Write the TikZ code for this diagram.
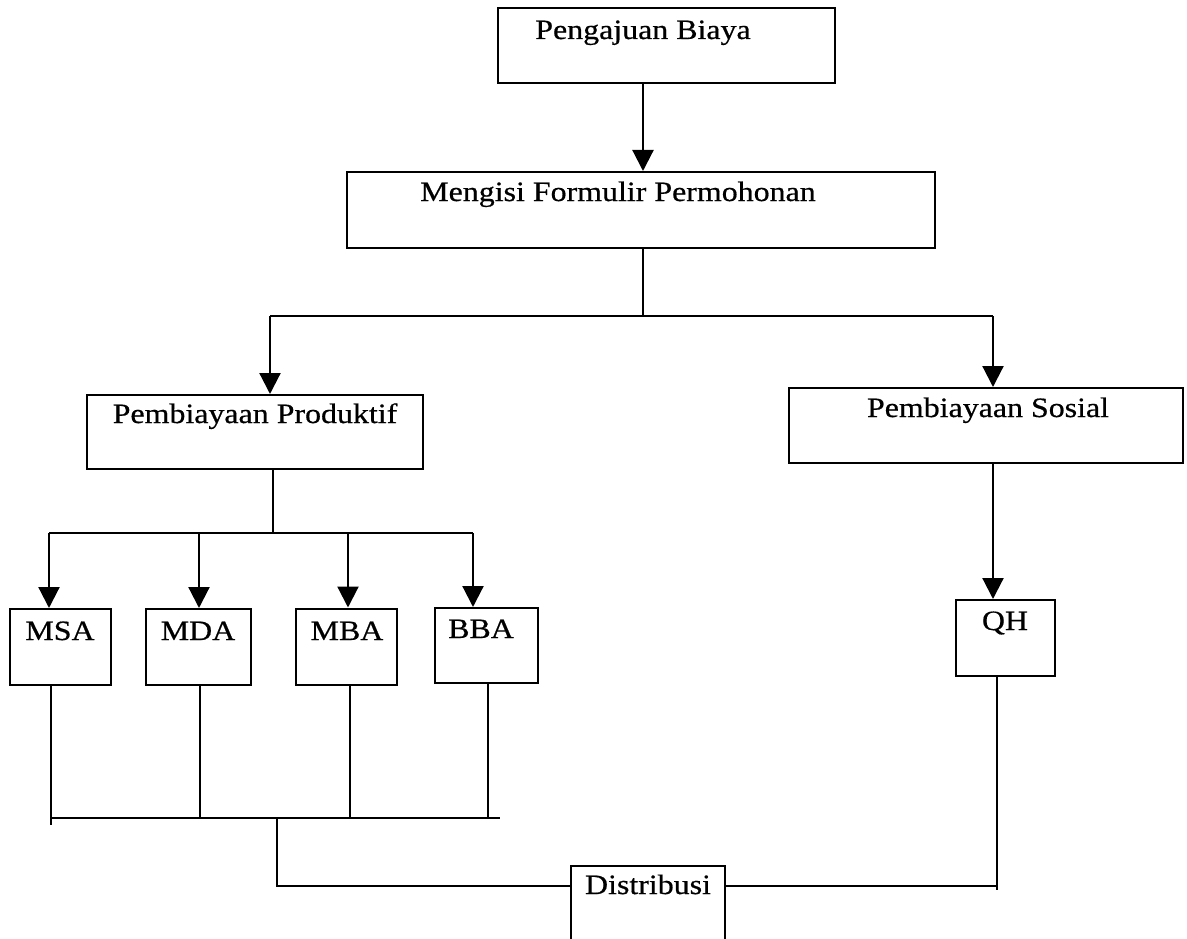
\documentclass[tikz,border=0pt]{standalone}
\usepackage{fontspec}
\setmainfont{Liberation Serif}[FakeStretch=1.14,FakeBold=0.6]
\usetikzlibrary{arrows.meta}
\begin{document}
\begin{tikzpicture}[x=1pt,y=-1pt,
  box/.style={draw,line width=2pt,inner sep=0pt,rectangle},
  lbl/.style={anchor=base,inner sep=0pt,font=\fontsize{28}{32}\selectfont},
  ln/.style={line width=2.2pt},
  arr/.style={line width=2.2pt,-{Triangle[width=21pt,length=21pt]}}]
\useasboundingbox (0,0) rectangle (1187,939);
\clip (0,0) rectangle (1187,939);
% boxes
\node[box,minimum width=337pt,minimum height=75pt] (b1) at (666.5,45.5) {};
\node[box,minimum width=588pt,minimum height=76pt] (b2) at (641,210) {};
\node[box,minimum width=336pt,minimum height=74pt] (pp) at (255,432) {};
\node[box,minimum width=394pt,minimum height=75pt] (ps) at (986,425.5) {};
\node[box,minimum width=99pt,minimum height=76pt] (qh) at (1005.5,638) {};
\node[box,minimum width=101pt,minimum height=76pt] (msa) at (60.5,647) {};
\node[box,minimum width=105pt,minimum height=76pt] (mda) at (198.5,647) {};
\node[box,minimum width=101pt,minimum height=76pt] (mba) at (346.5,646.5) {};
\node[box,minimum width=103pt,minimum height=75pt] (bba) at (486.5,645.5) {};
\node[box,minimum width=154pt,minimum height=100pt] (dis) at (648,916) {};
% texts
\node[lbl] (t1) at (643,39) {Pengajuan Biaya};
\node[lbl] (t2) at (618,201) {Mengisi Formulir Permohonan};
\node[lbl] (tpp) at (255,423) {Pembiayaan Produktif};
\node[lbl] (tps) at (988,417) {Pembiayaan Sosial};
\node[lbl] (tqh) at (1005,630) {QH};
\node[lbl] (tmsa) at (60,640) {MSA};
\node[lbl] (tmda) at (198,640) {MDA};
\node[lbl] (tmba) at (347,640) {MBA};
\node[lbl] (tbba) at (481,638) {BBA};
\node[lbl] (tdis) at (648,894) {Distribusi};
% junction coordinates
\coordinate (j1) at (643,316);
\coordinate (jl) at (270,316);
\coordinate (jr) at (993,316);
\coordinate (k1) at (273,533);
\coordinate (ka) at (49,533);
\coordinate (kb) at (199,533);
\coordinate (kc) at (348,533);
\coordinate (kd) at (473,533);
\coordinate (m1) at (51,818);
\coordinate (m1b) at (51,825);
\coordinate (m2) at (200,818);
\coordinate (m3) at (350,818);
\coordinate (m4) at (488,818);
\coordinate (mend) at (500,818);
\coordinate (mc) at (277,818);
\coordinate (dl) at (277,886);
\coordinate (dr) at (997,886);
\coordinate (drb) at (997,890);
% connectors
\draw[arr] (b1.south -| j1) -- (b2.north -| j1);
\draw[ln] (b2.south -| j1) -- (j1);
\draw[ln] (jl) -- (jr);
\draw[arr] (jl) -- (pp.north -| jl);
\draw[arr] (jr) -- (ps.north -| jr);
\draw[arr] (ps.south -| jr) -- (qh.north -| jr);
\draw[ln] (pp.south -| k1) -- (k1);
\draw[ln] (ka) -- (kd);
\draw[arr] (ka) -- (msa.north -| ka);
\draw[arr] (kb) -- (mda.north -| kb);
\draw[arr] (kc) -- (mba.north -| kc);
\draw[arr] (kd) -- (bba.north -| kd);
\draw[ln] (msa.south -| m1) -- (m1b);
\draw[ln] (mda.south -| m2) -- (m2);
\draw[ln] (mba.south -| m3) -- (m3);
\draw[ln] (bba.south -| m4) -- (m4);
\draw[ln] (m1) -- (mend);
\draw[ln] (mc) -- (dl) -- (dis.west |- dl);
\draw[ln] (dis.east |- dr) -- (dr) -- (qh.south -| dr);
\draw[ln] (dr) -- (drb);
\end{tikzpicture}
\end{document}
